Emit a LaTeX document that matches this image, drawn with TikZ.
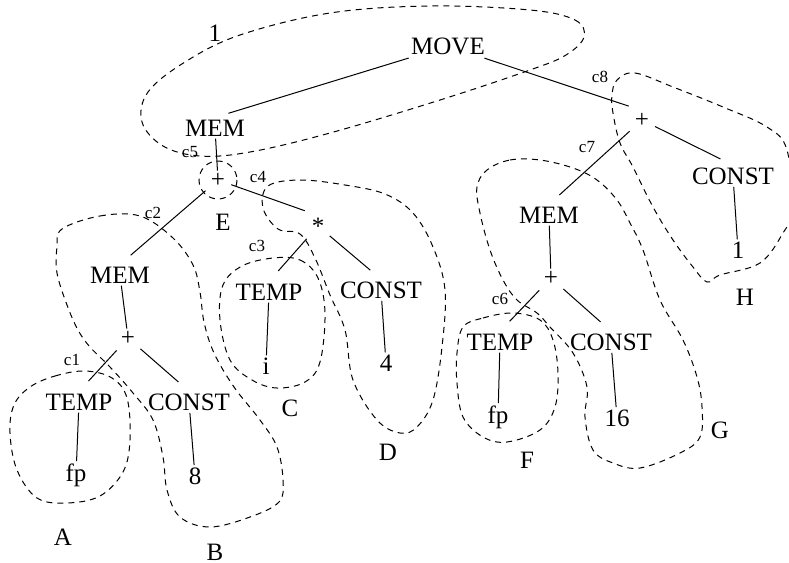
\documentclass[tikz,border=0pt]{standalone}
\usepackage{fontspec}
\setmainfont{Liberation Serif}
\usepackage{tikz}
\usetikzlibrary{calc}

\begin{document}
\begin{tikzpicture}[x=0.5pt,y=-0.5pt,
  op/.style={inner sep=1pt,font=\fontsize{12.5}{14}\selectfont},
  cut/.style={inner sep=0pt,font=\fontsize{8.5}{10}\selectfont},
  tile/.style={inner sep=0pt,font=\fontsize{12.5}{14}\selectfont},
  edge/.style={line width=0.5pt,shorten <=2pt,shorten >=7pt},
  stem/.style={line width=0.5pt},
  loop/.style={line width=0.5pt,dash pattern=on 3pt off 2.5pt}
]
\useasboundingbox (0,0) rectangle (789,563);
% tree nodes
\node[op] (move) at (448,46) {MOVE};
\node[op] (mem1) at (215,128) {MEM};
\node[op] (plus1) at (218,180) {+};
\node[op] (mem2) at (120,275) {MEM};
\node[op] (times) at (318,226) {*};
\node[op] (plus2) at (128,338) {+};
\node[op] (temp1) at (79,402) {TEMP};
\node[op] (const1) at (189,402) {CONST};
\node[op] (fp1) at (76,475) {fp};
\node[op] (eight) at (195,476) {8};
\node[op] (temp2) at (269,292) {TEMP};
\node[op] (const2) at (381,290) {CONST};
\node[op] (vari) at (266,366) {i};
\node[op] (four) at (386,363) {4};
\node[op] (plus3) at (642,120) {+};
\node[op] (mem3) at (549,215) {MEM};
\node[op] (const3) at (733,176) {CONST};
\node[op] (one) at (738,250) {1};
\node[op] (plus4) at (551,278) {+};
\node[op] (temp3) at (500,342) {TEMP};
\node[op] (const4) at (611,342) {CONST};
\node[op] (fp2) at (498,417) {fp};
\node[op] (sixteen) at (617,418) {16};
% slanted edges
\foreach \a/\b in {move/mem1,move/plus3,plus1/mem2,plus1/times,plus2/temp1,
                   plus2/const1,times/temp2,times/const2,plus3/mem3,
                   plus3/const3,plus4/temp3,plus4/const4}{
  \draw[edge] (\a) -- (\b.north);
}
% vertical edges
\foreach \a/\b in {mem1/plus1,mem2/plus2,temp1/fp1,const1/eight,temp2/vari,
                   const2/four,const3/one,mem3/plus4,temp3/fp2,const4/sixteen}{
  \draw[stem] (\a) -- (\b);
}
% tiles
\draw[loop] plot[smooth cycle,tension=0.6] coordinates {(530,10) (575,20)
  (584,37) (566,55) (530,70) (440,100) (330,133) (250,152) (200,156)
  (163,146) (142,122) (148,92) (185,62) (240,35) (330,13) (430,6)};
\draw[loop] (plus1) circle[radius=19];
\draw[loop] plot[smooth cycle,tension=0.6] coordinates {(268,186) (300,180)
  (345,185) (385,194) (413,213) (433,247) (445,290) (442,347) (433,400)
  (417,427) (400,433) (377,420) (353,380) (345,330) (330,295) (315,258)
  (300,234) (278,229) (263,208)};
\draw[loop] plot[smooth cycle,tension=0.6] coordinates {(273,258) (300,260)
  (318,278) (325,313) (320,362) (305,382) (277,388) (252,380) (230,360)
  (220,320) (223,285) (242,266)};
\draw[loop] plot[smooth cycle,tension=0.6] coordinates {(30,387) (55,376)
  (85,371) (112,378) (127,398) (130,440) (123,472) (100,496) (67,503)
  (37,498) (17,470) (10,433) (14,405)};
\draw[loop] plot[smooth cycle,tension=0.6] coordinates {(62,229) (100,216)
  (140,216) (173,238) (193,265) (200,292) (204,322) (214,353) (234,387)
  (260,420) (277,447) (283,480) (279,502) (250,517) (210,527) (180,517)
  (167,490) (163,457) (153,420) (133,393) (110,367) (90,347) (78,330)
  (67,305) (57,273) (57,247)};
\draw[loop] plot[smooth cycle,tension=0.6] coordinates {(487,170) (510,160)
  (540,160) (573,168) (597,180) (617,200) (630,223) (643,250) (660,300)
  (683,340) (697,377) (702,407) (700,437) (680,453) (640,468) (613,463)
  (593,450) (585,417) (587,387) (573,353) (550,327) (537,313) (517,300)
  (503,280) (490,250) (480,213) (477,187)};
\draw[loop] plot[smooth cycle,tension=0.6] coordinates {(463,327) (483,318)
  (513,313) (540,320) (553,340) (558,373) (555,407) (540,430) (507,442)
  (483,437) (463,417) (457,383) (457,353)};
\draw[loop] plot[smooth cycle,tension=0.6] coordinates {(617,80) (635,73)
  (673,87) (723,107) (767,127) (787,150) (792,210) (783,233) (760,263)
  (720,275) (707,282) (693,267) (673,240) (653,207) (633,167) (620,143)
  (613,113) (612,95)};
% cut labels
\node[cut] (c1) at (72,360) {c1};
\node[cut] (c2) at (153,213) {c2};
\node[cut] (c3) at (257,246) {c3};
\node[cut] (c4) at (258,177) {c4};
\node[cut] (c5) at (190,152) {c5};
\node[cut] (c6) at (500,299) {c6};
\node[cut] (c7) at (587,147) {c7};
\node[cut] (c8) at (600,77) {c8};
% tile labels
\node[tile] (tone) at (215,33) {1};
\node[tile] (tA) at (63,537) {A};
\node[tile] (tB) at (215,552) {B};
\node[tile] (tC) at (290,408) {C};
\node[tile] (tD) at (388,452) {D};
\node[tile] (tE) at (223,222) {E};
\node[tile] (tF) at (527,460) {F};
\node[tile] (tG) at (720,430) {G};
\node[tile] (tH) at (745,297) {H};
\end{tikzpicture}
\end{document}
